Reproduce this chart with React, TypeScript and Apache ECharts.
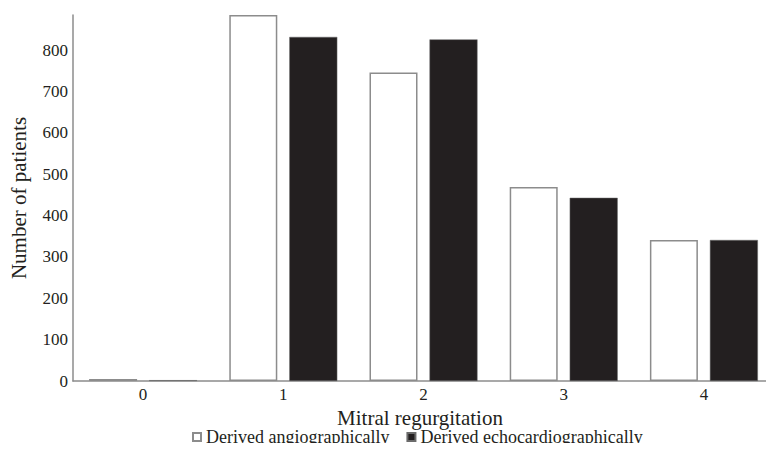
import React, { useEffect, useRef } from "react";
import * as echarts from "echarts";

const categories = ["0", "1", "2", "3", "4"];
const angioValues = [5, 885, 746, 469, 341];
const echoValues = [2, 832, 826, 443, 341];
const seriesNames = ["Derived angiographically", "Derived echocardiographically"];

const FONT = "Liberation Serif";
const TEXT = "#231f20";

export default function App() {
  const ref = useRef<HTMLDivElement>(null);
  useEffect(() => {
    if (!ref.current) return;
    const chart = echarts.init(ref.current, undefined, { renderer: "svg" });
    chart.setOption({
      animation: false,
      textStyle: { fontFamily: FONT, color: TEXT },
      grid: { left: 71, width: 709, top: 15, bottom: 70 },
      legend: {
        top: 423,
        left: 187,
        itemWidth: 8,
        itemHeight: 8,
        itemGap: 17,
        icon: "rect",
        textStyle: { fontFamily: FONT, fontSize: 18, lineHeight: 18, color: TEXT },
        data: seriesNames,
      },
      xAxis: {
        type: "category",
        data: categories,
        name: "Mitral regurgitation",
        nameLocation: "middle",
        nameGap: 20,
        nameTextStyle: { fontFamily: FONT, fontSize: 21, lineHeight: 18, color: TEXT, padding: [0, 7, 0, 0] },
        axisLine: { lineStyle: { color: "#8c8c8c", width: 1.5 } },
        axisTick: { show: false },
        axisLabel: { fontFamily: FONT, fontSize: 17, color: TEXT, margin: 5 },
      },
      yAxis: {
        type: "value",
        min: 0,
        max: 885,
        interval: 100,
        name: "Number of patients",
        nameLocation: "middle",
        nameGap: 44,
        nameTextStyle: { fontFamily: FONT, fontSize: 21, color: TEXT },
        axisLine: { show: true, lineStyle: { color: "#8c8c8c", width: 1.5 } },
        axisTick: { show: false },
        splitLine: { show: false },
        axisLabel: {
          fontFamily: FONT,
          fontSize: 17,
          color: TEXT,
          margin: 5,
          formatter: (v: number) => (v % 100 === 0 ? String(v) : ""),
        },
      },
      series: [
        {
          name: seriesNames[0],
          type: "bar",
          data: angioValues,
          barWidth: 48,
          barGap: "25%",
          itemStyle: { color: "#ffffff", borderColor: "#8c8c8c", borderWidth: 1.5 },
        },
        {
          name: seriesNames[1],
          type: "bar",
          data: echoValues,
          barWidth: 48,
          itemStyle: { color: "#231f20", borderColor: "#6b6b6b", borderWidth: 0.5 },
        },
      ],
    });
    return () => chart.dispose();
  }, []);
  return <div ref={ref} style={{ width: 774, height: 451, margin: -8 }} />;
}
